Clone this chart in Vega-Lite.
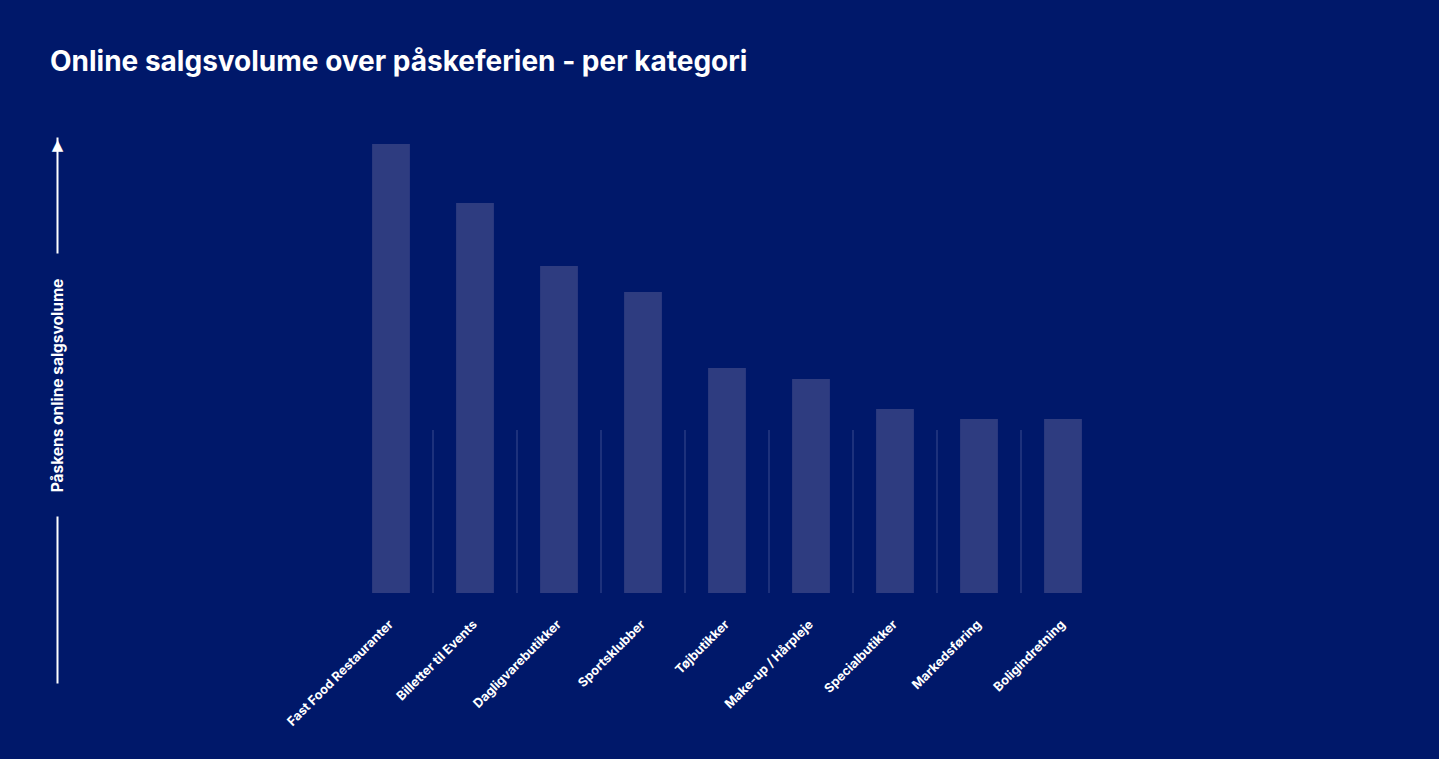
{
  "$schema": "https://vega.github.io/schema/vega-lite/v6.json",
  "autosize": {"type": "none"},
  "padding": {"left": 349, "top": 137, "right": 334, "bottom": 76},
  "width": 756,
  "height": 546,
  "background": "#00186a",
  "title": {
    "text": "Online salgsvolume over påskeferien - per kategori",
    "anchor": "start",
    "frame": "group",
    "dx": -299,
    "offset": 60,
    "font": "Inter",
    "fontSize": 28,
    "fontWeight": 700,
    "color": "white"
  },
  "data": {
    "values": [
      {"kategori": "Fast Food Restauranter", "volume": 449},
      {"kategori": "Billetter til Events", "volume": 390},
      {"kategori": "Dagligvarebutikker", "volume": 327},
      {"kategori": "Sportsklubber", "volume": 301},
      {"kategori": "Tøjbutikker", "volume": 225},
      {"kategori": "Make-up / Hårpleje", "volume": 214},
      {"kategori": "Specialbutikker", "volume": 184},
      {"kategori": "Markedsføring", "volume": 174},
      {"kategori": "Boligindretning", "volume": 174}
    ]
  },
  "encoding": {
    "x": {
      "field": "kategori",
      "type": "nominal",
      "sort": null,
      "scale": {"paddingInner": 0.55, "paddingOuter": 0.275},
      "axis": {
        "title": null,
        "orient": "bottom",
        "offset": -64,
        "domain": false,
        "ticks": false,
        "grid": false,
        "labelAngle": -45,
        "labelAlign": "right",
        "labelBaseline": "middle",
        "labelPadding": 3,
        "labelFont": "Inter",
        "labelFontSize": 12.7,
        "labelFontWeight": 700,
        "labelColor": "white",
        "labelLimit": 300
      }
    }
  },
  "layer": [
    {
      "mark": {"type": "bar", "color": "#2e3c80"},
      "encoding": {
        "y": {
          "field": "volume",
          "type": "quantitative",
          "scale": {"domain": [-90, 456], "nice": false, "zero": false},
          "axis": {
            "title": "Påskens online salgsvolume",
            "titleFont": "Inter",
            "titleFontSize": 15.5,
            "titleFontWeight": 700,
            "titleColor": "white",
            "titleAngle": -90,
            "titleX": 0,
            "titleY": 248,
            "titleAlign": "center",
            "titleBaseline": "middle",
            "offset": 292,
            "domain": true,
            "domainColor": "white",
            "domainWidth": 2,
            "domainDash": [167, 263, 200],
            "ticks": false,
            "tickSize": 0,
            "grid": false,
            "values": [456],
            "labelExpr": "'▲'",
            "labelFont": "DejaVu Sans",
            "labelFontSize": 15,
            "labelColor": "white",
            "labelAlign": "center",
            "labelBaseline": "top",
            "labelPadding": 0
          }
        },
        "y2": {"datum": 0}
      }
    },
    {
      "transform": [{"filter": "datum.kategori !== 'Boligindretning'"}],
      "mark": {"type": "rule", "color": "#3a4a8e", "strokeWidth": 1, "xOffset": 42},
      "encoding": {
        "y": {"datum": 0, "type": "quantitative"},
        "y2": {"datum": 163}
      }
    }
  ],
  "config": {"view": {"stroke": null}}
}
